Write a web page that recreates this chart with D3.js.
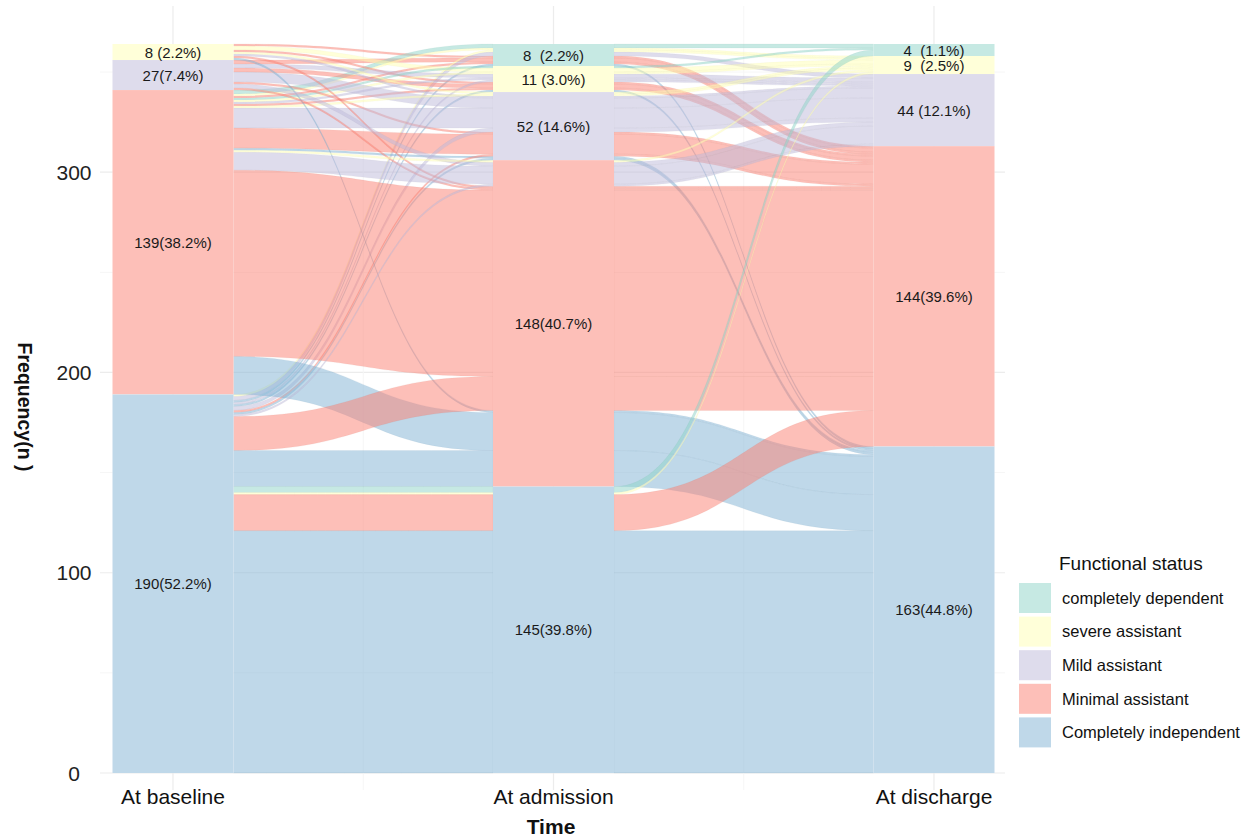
<!DOCTYPE html>
<html>
<head>
<meta charset="utf-8">
<script src="https://cdn.jsdelivr.net/npm/d3@7"></script>
<style>
  html, body { margin: 0; padding: 0; background: #ffffff; }
  svg { display: block; font-family: "Liberation Sans", Arial, Helvetica, sans-serif; }
</style>
</head>
<body>
<svg id="chart" width="1260" height="837"></svg>
<script>
// ---------------- data ----------------
const timeLabels = ["At baseline", "At admission", "At discharge"];
const statusLabels = ["completely dependent", "severe assistant", "Mild assistant", "Minimal assistant", "Completely independent"];
const statusColors = ["#8DD3C7", "#FFFFB3", "#BEBADA", "#FB8072", "#80B1D3"];
const yTicks = [0, 100, 200, 300];

// patient groups: status codes (0 = completely dependent ... 4 = completely independent)
const baselineState  = [1,2,3,3,3,4,4,4, 1,1,2,2,3,3,3,3,4,4, 1,1,2,2,3,3,3,3,4,4,4, 1,1,2,2,3,3,3,3,4,4,4, 4,4,4,4];
const admissionState = [0,0,0,0,0,0,0,0, 1,1,1,1,1,1,1,1,1,1, 2,2,2,2,2,2,2,2,2,2,2, 3,3,3,3,3,3,3,3,3,3,3, 4,4,4,4];
const dischargeState = [3,3,0,1,3,1,2,4, 1,3,2,3,0,1,2,3,2,4, 1,2,2,3,1,2,3,4,2,3,4, 3,4,2,3,1,2,3,4,2,3,4, 0,1,3,4];
const groupCounts    = [1,2,2,1,1,1,2,1, 2,1,2,2,1,1,1,1,1,1, 1,1,5,1,1,10,10,1,2,1,1, 1,1,2,1,1,9,93,19,1,17,18, 3,1,18,121];

// stratum labels (text as printed), indexed by status code
const baselineLabels  = ["", "8 (2.2%)", "27(7.4%)", "139(38.2%)", "190(52.2%)"];
const admissionLabels = ["8  (2.2%)", "11 (3.0%)", "52 (14.6%)", "148(40.7%)", "145(39.8%)"];
const dischargeLabels = ["4  (1.1%)", "9  (2.5%)", "44 (12.1%)", "144(39.6%)", "163(44.8%)"];

// ---------------- layout ----------------
const svg = d3.select("#chart");
const total = d3.sum(groupCounts);
const states = [baselineState, admissionState, dischargeState];
const stratumLabelSets = [baselineLabels, admissionLabels, dischargeLabels];

const x = d3.scalePoint().domain(timeLabels).range([173, 934]);
const step = x.step();
const sw = step * 0.318;
const y = d3.scaleLinear().domain([0, total]).range([773, 44]);

const groups = groupCounts.map((n, i) => ({ i, n, s: [baselineState[i], admissionState[i], dischargeState[i]], top: [], bot: [] }));

// lode ordering per axis: own stratum, then other axes
const orderKeys = [[0, 1, 2], [1, 2, 0], [2, 1, 0]];
orderKeys.forEach((keys, ax) => {
  const sorted = groups.slice().sort((a, b) => {
    for (const k of keys) { if (a.s[k] !== b.s[k]) return a.s[k] - b.s[k]; }
    return a.i - b.i;
  });
  let cum = 0;
  sorted.forEach(g => { g.top[ax] = total - cum; cum += g.n; g.bot[ax] = total - cum; });
});

// strata
const strata = [];
states.forEach((arr, ax) => {
  let cum = 0;
  for (let s = 0; s < 5; s++) {
    const n = d3.sum(groupCounts.filter((c, i) => arr[i] === s));
    if (n > 0) strata.push({ ax, s, n, top: total - cum, bot: total - cum - n, label: stratumLabelSets[ax][s] });
    cum += n;
  }
});

// ---------------- grid ----------------
const grid = svg.append("g");
const gx0 = 100, gx1 = 1005, gy0 = 6, gy1 = 790;
[50, 150, 250, 350].forEach(v => grid.append("line").attr("x1", gx0).attr("x2", gx1).attr("y1", y(v)).attr("y2", y(v)).attr("stroke", "#f6f6f6").attr("stroke-width", 1));
yTicks.forEach(v => grid.append("line").attr("x1", gx0).attr("x2", gx1).attr("y1", y(v)).attr("y2", y(v)).attr("stroke", "#ececec").attr("stroke-width", 1.2));
const xs = timeLabels.map(t => x(t));
[(xs[0] + xs[1]) / 2, (xs[1] + xs[2]) / 2].forEach(v => grid.append("line").attr("x1", v).attr("x2", v).attr("y1", gy0).attr("y2", gy1).attr("stroke", "#f6f6f6"));
xs.forEach(v => grid.append("line").attr("x1", v).attr("x2", v).attr("y1", gy0).attr("y2", gy1).attr("stroke", "#ececec").attr("stroke-width", 1.2));

// ---------------- alluvia ----------------
const flowG = svg.append("g");
for (let ax = 0; ax < 2; ax++) {
  const xL = xs[ax] + sw / 2, xR = xs[ax + 1] - sw / 2, xm = (xL + xR) / 2;
  groups.forEach(g => {
    const tL = y(g.top[ax]), tR = y(g.top[ax + 1]), bL = y(g.bot[ax]), bR = y(g.bot[ax + 1]);
    const p = d3.path();
    p.moveTo(xL, tL);
    p.bezierCurveTo(xm, tL, xm, tR, xR, tR);
    p.lineTo(xR, bR);
    p.bezierCurveTo(xm, bR, xm, bL, xL, bL);
    p.closePath();
    flowG.append("path").attr("d", p.toString())
      .attr("fill", statusColors[g.s[2]]).attr("fill-opacity", 0.5)
      .attr("stroke", d3.color(statusColors[g.s[2]]).darker(0.6)).attr("stroke-opacity", 0.12).attr("stroke-width", 0.6);
  });
}

// ---------------- strata ----------------
const sG = svg.append("g");
strata.forEach(st => {
  sG.append("rect").attr("x", xs[st.ax] - sw / 2).attr("width", sw)
    .attr("y", y(st.top)).attr("height", y(st.bot) - y(st.top))
    .attr("fill", "#ffffff");
  sG.append("rect").attr("x", xs[st.ax] - sw / 2).attr("width", sw)
    .attr("y", y(st.top)).attr("height", y(st.bot) - y(st.top))
    .attr("fill", statusColors[st.s]).attr("fill-opacity", 0.5);
});
strata.forEach(st => {
  sG.append("text").attr("x", xs[st.ax]).attr("y", (y(st.top) + y(st.bot)) / 2)
    .attr("text-anchor", "middle").attr("dominant-baseline", "central")
    .style("white-space", "pre").attr("font-size", 15).attr("fill", "#1a1a1a")
    .text(st.label);
});

// ---------------- axes ----------------
const axG = svg.append("g");
yTicks.forEach(v => axG.append("text").attr("x", 74).attr("y", y(v)).attr("dy", "0.36em")
  .attr("text-anchor", "middle").attr("font-size", 21).attr("fill", "#222").text(v));
timeLabels.forEach(t => axG.append("text").attr("x", x(t)).attr("y", 804)
  .attr("text-anchor", "middle").attr("font-size", 21).attr("fill", "#111").text(t));
axG.append("text").attr("x", 551).attr("y", 834).attr("text-anchor", "middle")
  .attr("font-size", 21).attr("font-weight", "bold").attr("fill", "#111").text("Time");
axG.append("text").attr("transform", "translate(18,407) rotate(90)")
  .attr("text-anchor", "middle").attr("font-size", 19.5).attr("font-weight", "bold").attr("fill", "#111").text("Frequency(n )");

// ---------------- legend ----------------
const lg = svg.append("g").attr("transform", "translate(1019,583)");
lg.append("text").attr("x", 40).attr("y", -13).attr("font-size", 19).attr("fill", "#111").text("Functional status");
statusLabels.forEach((lab, i) => {
  const row = lg.append("g").attr("transform", `translate(0,${i * 33.6})`);
  row.append("rect").attr("width", 32).attr("height", 30).attr("fill", statusColors[i]).attr("fill-opacity", 0.5);
  row.append("text").attr("x", 43).attr("y", 15).attr("dy", "0.35em").attr("font-size", 16.5).attr("fill", "#111").text(lab);
});
</script>
</body>
</html>
